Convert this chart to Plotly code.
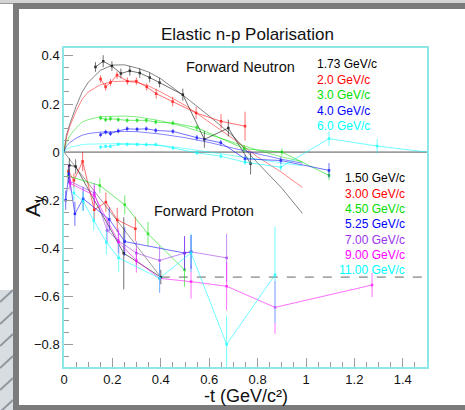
import plotly.graph_objects as go

# ---------------- data ----------------
# Forward neutron data (x = -t, y = A_y, e = error)
n_labels = ["1.73 GeV/c", "2.0 GeV/c", "3.0 GeV/c", "4.0 GeV/c", "6.0 GeV/c"]
n_colors = ["#000000", "#ff0000", "#00dd00", "#0000ff", "#00ffff"]

n1_x = [0.130, 0.162, 0.198, 0.235, 0.272, 0.313, 0.354, 0.395, 0.491, 0.580, 0.679, 0.771]
n1_y = [0.354, 0.378, 0.358, 0.327, 0.338, 0.329, 0.310, 0.289, 0.239, 0.053, 0.100, -0.048]
n1_e = [0.02, 0.025, 0.02, 0.02, 0.02, 0.02, 0.02, 0.02, 0.025, 0.035, 0.035, 0.045]

n2_x = [0.151, 0.172, 0.192, 0.219, 0.262, 0.299, 0.342, 0.381, 0.449, 0.546, 0.649, 0.748]
n2_y = [0.304, 0.271, 0.289, 0.320, 0.295, 0.295, 0.271, 0.243, 0.210, 0.163, 0.128, 0.108]
n2_e = [0.015, 0.015, 0.015, 0.015, 0.015, 0.015, 0.015, 0.02, 0.02, 0.025, 0.03, 0.06]

n3_x = [0.151, 0.172, 0.192, 0.224, 0.261, 0.302, 0.340, 0.379, 0.450, 0.549, 0.745, 0.900, 1.095]
n3_y = [0.142, 0.135, 0.139, 0.135, 0.132, 0.132, 0.132, 0.125, 0.121, 0.102, 0.014, 0.000, -0.097]
n3_e = [0.01, 0.01, 0.01, 0.01, 0.01, 0.01, 0.01, 0.01, 0.01, 0.012, 0.015, 0.015, 0.02]

n4_x = [0.151, 0.172, 0.192, 0.224, 0.261, 0.302, 0.340, 0.379, 0.450, 0.549, 0.648, 0.748, 0.896, 1.095]
n4_y = [0.072, 0.083, 0.077, 0.088, 0.097, 0.095, 0.097, 0.090, 0.086, 0.060, 0.039, -0.028, -0.035, -0.076]
n4_e = [0.01, 0.01, 0.01, 0.01, 0.01, 0.01, 0.01, 0.01, 0.01, 0.012, 0.012, 0.015, 0.015, 0.03]

n5_x = [0.151, 0.172, 0.192, 0.224, 0.261, 0.302, 0.340, 0.379, 0.450, 0.549, 0.648, 0.748, 0.896, 1.095, 1.294, 1.600]
n5_y = [0.021, 0.024, 0.024, 0.032, 0.032, 0.032, 0.031, 0.031, 0.017, -0.003, -0.017, -0.042, -0.063, 0.056, 0.025, -0.012]
n5_e = [0.008, 0.008, 0.008, 0.008, 0.008, 0.008, 0.008, 0.008, 0.008, 0.01, 0.01, 0.012, 0.015, 0.03, 0.03, 0.03]

# Neutron fitted curves
fit_x = [0.0, 0.01, 0.025, 0.05, 0.075, 0.10, 0.15, 0.20, 0.25, 0.30, 0.35, 0.40, 0.50, 0.60, 0.70, 0.80, 0.90, 0.985]
fit1_y = [0.0, 0.07, 0.12, 0.19, 0.25, 0.29, 0.34, 0.362, 0.363, 0.350, 0.333, 0.305, 0.230, 0.150, 0.065, -0.045, -0.150, -0.255]
fit2_y = [0.0, 0.06, 0.11, 0.17, 0.22, 0.25, 0.28, 0.293, 0.295, 0.290, 0.275, 0.250, 0.195, 0.125, 0.055, -0.020, -0.085, -0.147]
fit3_y = [0.0, 0.04, 0.07, 0.10, 0.125, 0.135, 0.147, 0.150, 0.150, 0.147, 0.140, 0.130, 0.105, 0.072, 0.038, 0.008, -0.020, -0.040]
fit4_y = [0.0, 0.025, 0.04, 0.058, 0.070, 0.077, 0.083, 0.086, 0.086, 0.085, 0.080, 0.075, 0.060, 0.040, 0.016, -0.008, -0.030, -0.046]
fit5_y = [0.0, 0.012, 0.02, 0.027, 0.031, 0.033, 0.035, 0.036, 0.036, 0.034, 0.031, 0.028, 0.015, 0.001, -0.014, -0.030, -0.045, -0.057]

# Forward proton data
p_labels = ["1.50 GeV/c", "3.00 GeV/c", "4.50 GeV/c", "5.25 GeV/c", "7.00 GeV/c", "9.00 GeV/c", "11.00 GeV/c"]
p_colors = ["#000000", "#ff0000", "#00dd00", "#0000ff", "#9933ee", "#ff00ff", "#00ffff"]

p1_x = [0.022, 0.048, 0.247, 0.400]
p1_y = [-0.055, -0.060, -0.421, -0.520]
p1_e = [0.03, 0.03, 0.15, 0.03]

p2_x = [0.018, 0.041, 0.077, 0.125, 0.173, 0.220, 0.295]
p2_y = [-0.080, -0.118, -0.039, -0.240, -0.208, -0.282, -0.319]
p2_e = [0.03, 0.03, 0.04, 0.04, 0.04, 0.05, 0.05]

p3_x = [0.018, 0.148, 0.251, 0.347, 0.498]
p3_y = [-0.100, -0.139, -0.219, -0.340, -0.490]
p3_e = [0.03, 0.03, 0.04, 0.05, 0.07]

p4_x = [0.007, 0.020, 0.045, 0.079, 0.187, 0.251, 0.498, 0.525]
p4_y = [-0.200, -0.090, -0.257, -0.194, -0.280, -0.372, -0.420, -0.415]
p4_e = [0.04, 0.04, 0.05, 0.05, 0.05, 0.06, 0.07, 0.07]

p5_x = [0.022, 0.125, 0.178, 0.224, 0.299, 0.395, 0.498, 0.525, 0.672]
p5_y = [-0.120, -0.170, -0.326, -0.368, -0.420, -0.451, -0.420, -0.415, -0.440]
p5_e = [0.03, 0.04, 0.05, 0.05, 0.05, 0.06, 0.07, 0.07, 0.1]

p6_x = [0.026, 0.125, 0.226, 0.299, 0.395, 0.525, 0.672, 0.872, 1.273]
p6_y = [-0.130, -0.180, -0.375, -0.451, -0.525, -0.539, -0.558, -0.646, -0.553]
p6_e = [0.03, 0.04, 0.05, 0.05, 0.06, 0.07, 0.1, 0.11, 0.05]

p7_x = [0.041, 0.079, 0.123, 0.175, 0.226, 0.395, 0.525, 0.672, 0.872]
p7_y = [-0.170, -0.205, -0.285, -0.375, -0.440, -0.525, -0.419, -0.800, -0.510]
p7_e = [0.03, 0.04, 0.04, 0.05, 0.06, 0.06, 0.08, 0.12, 0.2]

# Proton straight-line fits
pfit_x = [0.0, 0.4]
pfit_y = [0.0, -0.52]
pflat_x = [0.4, 1.5]
pflat_y = [-0.52, -0.52]

# ---------------- figure ----------------
fig = go.Figure()

def add_curve(x, y, color):
    fig.add_trace(go.Scatter(x=x, y=y, mode="lines", line=dict(color=color, width=0.8),
                             opacity=0.6, hoverinfo="skip", showlegend=False))

for fy, c in zip([fit1_y, fit2_y, fit3_y, fit4_y, fit5_y], n_colors):
    add_curve(fit_x, fy, c)

add_curve(pfit_x, pfit_y, "#333333")
fig.add_trace(go.Scatter(x=pflat_x, y=pflat_y, mode="lines",
                         line=dict(color="#666666", width=1, dash="dash"),
                         showlegend=False, hoverinfo="skip"))

def add_data(x, y, e, color):
    fig.add_trace(go.Scatter(x=x, y=y, mode="lines+markers",
                             line=dict(color=color, width=0.7),
                             marker=dict(color=color, size=2.5, symbol="square"),
                             error_y=dict(type="data", array=e, color=color, thickness=0.7, width=0),
                             opacity=0.8, showlegend=False))

for xs, ys, es, c in zip([n1_x, n2_x, n3_x, n4_x, n5_x], [n1_y, n2_y, n3_y, n4_y, n5_y],
                         [n1_e, n2_e, n3_e, n4_e, n5_e], n_colors):
    add_data(xs, ys, es, c)

for xs, ys, es, c in zip([p1_x, p2_x, p3_x, p4_x, p5_x, p6_x, p7_x],
                         [p1_y, p2_y, p3_y, p4_y, p5_y, p6_y, p7_y],
                         [p1_e, p2_e, p3_e, p4_e, p5_e, p6_e, p7_e], p_colors):
    add_data(xs, ys, es, c)

FONT = "Liberation Sans, Arial, Helvetica, sans-serif"

# convert pixel coordinates to paper coordinates
L, R, T, B = 64, 427, 48, 367
W, H = 465, 410
def px2x(px):
    return (px - L) / (R - L)
def py2y(py):
    return (B - py) / (B - T)

ann = []
for i, (lab, c) in enumerate(zip(n_labels, n_colors)):
    ann.append(dict(x=px2x(315), y=py2y(64 + i * 15.5), xref="paper", yref="paper", text=lab,
                    showarrow=False, font=dict(color=c, size=12, family=FONT),
                    xanchor="left", yanchor="middle"))
for i, (lab, c) in enumerate(zip(p_labels, p_colors)):
    ann.append(dict(x=px2x(407), y=py2y(178.3 + i * 15.3), xref="paper", yref="paper", text=lab,
                    showarrow=False, font=dict(color=c, size=12, family=FONT),
                    xanchor="right", yanchor="middle"))

ann.append(dict(x=px2x(240), y=py2y(67), xref="paper", yref="paper", text="Forward Neutron",
                showarrow=False, font=dict(size=14.5, family=FONT, color="#111"), xanchor="center", yanchor="middle"))
ann.append(dict(x=px2x(204), y=py2y(211), xref="paper", yref="paper", text="Forward Proton",
                showarrow=False, font=dict(size=14.5, family=FONT, color="#111"), xanchor="center", yanchor="middle"))
ann.append(dict(x=px2x(247), y=py2y(34), xref="paper", yref="paper", text="Elastic n-p Polarisation",
                showarrow=False, font=dict(size=17, family=FONT, color="#111"), xanchor="center", yanchor="middle"))
ann.append(dict(x=px2x(246), y=py2y(396), xref="paper", yref="paper", text="-t (GeV/c\u00b2)",
                showarrow=False, font=dict(size=18, family=FONT, color="#111"), xanchor="center", yanchor="middle"))
ann.append(dict(x=px2x(34), y=py2y(206), xref="paper", yref="paper", text="A<sub>y</sub>",
                showarrow=False, textangle=-90, font=dict(size=21, family=FONT, color="#111"),
                xanchor="center", yanchor="middle"))

# page border shapes
shapes = []
def rect(x0, y0, x1, y1, color, layer="below"):
    shapes.append(dict(type="rect", xref="paper", yref="paper",
                       x0=px2x(x0), x1=px2x(x1), y0=py2y(y1), y1=py2y(y0),
                       fillcolor=color, line=dict(width=0), layer=layer))
rect(0, 0, 465, 3, "#d4d4d4")
rect(13, 3, 465, 9, "#7b7b7b")
rect(13, 3, 19, 410, "#7b7b7b")
rect(13, 405, 465, 410, "#7b7b7b")
rect(0, 3, 13, 4, "#9a9a9a")
rect(0, 290, 13, 410, "#d8dde2")
for k in range(6):
    y0 = 290 + k * 22
    shapes.append(dict(type="line", xref="paper", yref="paper",
                       x0=px2x(0), x1=px2x(13), y0=py2y(y0 + 12), y1=py2y(y0),
                       line=dict(color="#8f979f", width=2), layer="below"))
# zero line
shapes.append(dict(type="line", xref="x", yref="y", x0=0, x1=1.5, y0=0, y1=0,
                   line=dict(color="#555555", width=1), layer="below"))

fig.update_layout(
    width=W, height=H,
    margin=dict(l=L, r=W - R, t=T, b=H - B),
    paper_bgcolor="white", plot_bgcolor="white",
    font=dict(family=FONT, size=13, color="#111"),
    annotations=ann, shapes=shapes,
    showlegend=False,
)
fig.update_xaxes(range=[0, 1.5], tickvals=[0, 0.2, 0.4, 0.6, 0.8, 1.0, 1.2, 1.4],
                 ticktext=["0", "0.2", "0.4", "0.6", "0.8", "1", "1.2", "1.4"],
                 ticks="inside", ticklen=9, tickcolor="#9a9a9a", tickwidth=1,
                 minor=dict(dtick=0.05, ticks="inside", ticklen=5, tickcolor="#9a9a9a"),
                 showgrid=False, zeroline=False, showline=True, linecolor="#8ee6e6", linewidth=1.5,
                 mirror=True, tickfont=dict(size=13, family=FONT, color="#111"))
fig.update_yaxes(range=[-0.894, 0.433], tickvals=[-0.8, -0.6, -0.4, -0.2, 0, 0.2, 0.4],
                 ticktext=["\u22120.8", "\u22120.6", "\u22120.4", "\u22120.2", "0", "0.2", "0.4"],
                 ticks="inside", ticklen=9, tickcolor="#9a9a9a", tickwidth=1,
                 minor=dict(dtick=0.05, ticks="inside", ticklen=5, tickcolor="#9a9a9a"),
                 showgrid=False, zeroline=False, showline=True, linecolor="#8ee6e6", linewidth=1.5,
                 mirror=True, tickfont=dict(size=13, family=FONT, color="#111"))

fig.write_html("out.html")
